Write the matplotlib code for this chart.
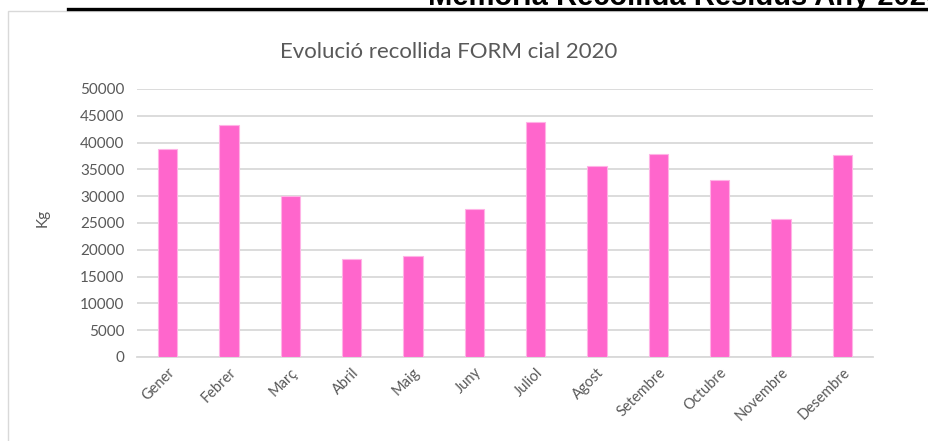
import matplotlib.pyplot as plt
from matplotlib.patches import Rectangle
from matplotlib.lines import Line2D

mesos = ['Gener', 'Febrer', 'Març', 'Abril', 'Maig', 'Juny', 'Juliol',
         'Agost', 'Setembre', 'Octubre', 'Novembre', 'Desembre']
kg = [38800, 43300, 30000, 18300, 18800, 27600, 43900,
      35700, 37800, 33100, 25800, 37700]
yticks = list(range(0, 50001, 5000))

W, H = 929, 441
fig = plt.figure(figsize=(W / 100, H / 100), dpi=100)

# capçalera del document (retallada)
fig.text(428 / W, 1 - 5 / H, 'Memoria Recollida Residus Any 2020',
         fontsize=21, fontweight='bold', family='Liberation Sans',
         ha='left', va='baseline', color='black')
fig.add_artist(Line2D([68 / W, 1], [1 - 9 / H, 1 - 9 / H], color='black',
                      lw=2.4, transform=fig.transFigure))
# marc del gràfic
fig.add_artist(Rectangle((8 / W, -0.1), 1.2, 1 - 11 / H + 0.1, fill=False,
                         edgecolor='#d9d9d9', lw=1, transform=fig.transFigure))

ax = fig.add_axes([137 / W, 1 - 357 / H, 736 / W, 268 / H])
ax.bar(range(len(mesos)), kg, width=0.31, color='#ff66cc',
       edgecolor='#ffb3e6', linewidth=0.8, zorder=3)
ax.set_xlim(-0.5, len(mesos) - 0.5)
ax.set_ylim(0, 50000)
ax.set_yticks(yticks)
ax.set_yticklabels([str(v) for v in yticks], family='Lato', fontsize=11,
                   color='#595959')
ax.set_xticks(range(len(mesos)))
ax.set_xticklabels(mesos, rotation=45, ha='right', rotation_mode='anchor',
                   family='Lato', fontsize=10.5, color='#595959')
ax.grid(axis='y', color='#d9d9d9', lw=1.3, zorder=0)
for s in ['top', 'right', 'left']:
    ax.spines[s].set_visible(False)
ax.spines['bottom'].set_color('#d9d9d9')
ax.spines['bottom'].set_linewidth(1.3)
ax.tick_params(length=0, pad=9)
ax.tick_params(axis='x', pad=6)

fig.text(43 / W, 1 - 218 / H, 'Kg', rotation=90, family='Lato', fontsize=11,
         color='#595959', ha='center', va='center')
fig.text(449 / W, 1 - 52 / H, 'Evolució recollida FORM cial 2020',
         family='Lato', fontsize=16, color='#595959', ha='center',
         va='center')

fig.savefig('out.png', dpi=100)
